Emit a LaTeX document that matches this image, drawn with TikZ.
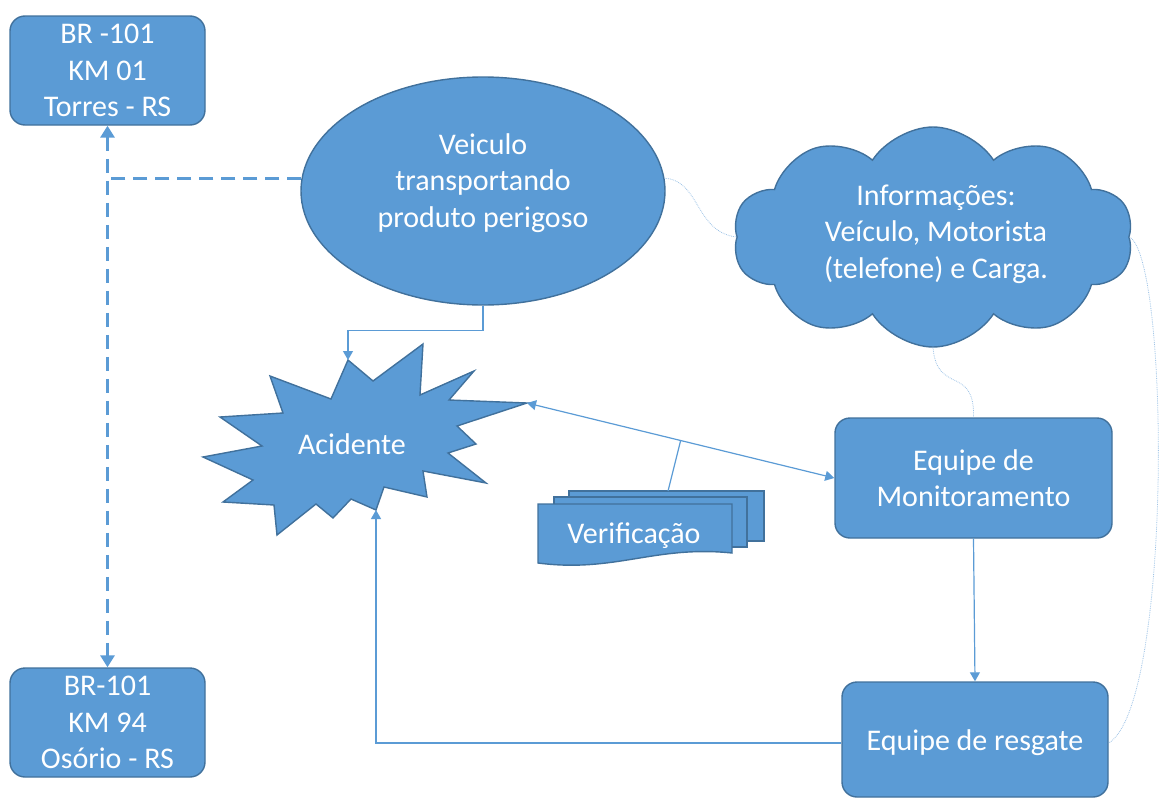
\documentclass[tikz,border=0pt]{standalone}
\usepackage{fontspec}
\setmainfont{Carlito}
\usetikzlibrary{arrows.meta,shapes.geometric,shapes.symbols,calc}
\definecolor{boxfill}{HTML}{5B9BD5}
\definecolor{boxedge}{HTML}{41719C}
\definecolor{linkblue}{HTML}{5B9BD5}
\definecolor{faintblue}{HTML}{9DC3E6}
\tikzset{
  shapebase/.style={fill=boxfill, draw=boxedge, line width=1.4pt, text=white,
    align=center, font=\fontsize{30}{36.5}\selectfont},
  roundbox/.style={shapebase, rectangle, rounded corners=15pt, inner sep=0pt},
  plaintext/.style={text=white, align=center, font=\fontsize{30}{36.5}\selectfont, inner sep=0pt},
  link/.style={draw=linkblue, line width=1.2pt},
  linkarrow/.style={link, -{Triangle[width=10pt,length=9pt]}},
  roadline/.style={draw=linkblue, line width=3pt, dash pattern=on 14pt off 8pt},
  roadtip/.style={{Triangle[width=14pt,length=12pt]}-{Triangle[width=14pt,length=12pt]}},
  softlink/.style={draw=faintblue, line width=0.8pt, densely dotted},
}
\begin{document}
\begin{tikzpicture}[x=1pt,y=-1pt]
\useasboundingbox (0,0) rectangle (1160,798);

% road markers
\node[roundbox, minimum width=195pt, minimum height=109pt] (top) at (107.5,70.5)
  {BR -101\\KM 01\\Torres - RS};
\node[roundbox, minimum width=195pt, minimum height=109pt] (bot) at (107.5,722.5)
  {BR-101\\KM 94\\Osório - RS};

% vehicle
\node[shapebase, ellipse, minimum width=364pt, minimum height=228pt, inner sep=0pt] (veic)
  at (483,191) {};
\node[plaintext] (vtext) at (483,183) {Veiculo\\transportando\\produto perigoso};

% information cloud
\node[shapebase, cloud, cloud puffs=10, cloud puff arc=115, cloud ignores aspect,
  minimum width=400pt, minimum height=220pt, inner sep=0pt] (info) at (933,237) {};
\node[plaintext] (itext) at (936,234)
  {Informações:\\Veículo, Motorista\\(telefone) e Carga.};

% accident starburst
\filldraw[fill=boxfill, draw=boxedge, line width=1.4pt, line join=miter]
  (348,360) coordinate (sTop) -- (373,381) -- (423,344) -- (420,395) -- (474,371)
  -- (449,400) -- (527,403) coordinate (sRight) -- (457,426) -- (476,444) -- (448,453)
  -- (486,483) -- (423,471) -- (427,497) -- (384,487) -- (376,510) coordinate (sBot)
  -- (351,499) -- (333,518) -- (316,504) -- (277,535) -- (274,505) -- (223,502)
  -- (253,480) -- (203,457) -- (262,446) -- (220,417) -- (283,413) -- (270,376)
  -- (331,399) -- cycle;
\node[plaintext] (acid) at (352,444) {Acidente};

% verification documents
\filldraw[fill=boxfill, draw=boxedge, line width=1.4pt]
  (569,491) coordinate (docTop) rectangle (764,541);
\filldraw[fill=boxfill, draw=boxedge, line width=1.4pt] (554,497) rectangle (747,547);
\filldraw[fill=boxfill, draw=boxedge, line width=1.4pt]
  (538,504) -- (732,504) -- (732,553) .. controls (655,545) and (615,573) .. (538,563) -- cycle;
\node[plaintext] (verif) at (634,536) {Verificação};

% teams
\node[roundbox, minimum width=277pt, minimum height=120pt] (mon) at (973.5,478)
  {Equipe de\\Monitoramento};
\node[roundbox, minimum width=266pt, minimum height=115pt] (resg) at (975,739.5) {};
\node[plaintext] (rtext) at (975,743) {Equipe de resgate};

% road stretch
\draw[roadline, roadtip] (top.south) -- (bot.north);
\draw[roadline] (veic.176) -- (veic.176 -| top.south);

% flow connectors
\draw[linkarrow] (veic.south) -- ++(0,25) -| (sTop);
\draw[link, {Triangle[width=10pt,length=9pt]}-{Triangle[width=10pt,length=9pt]}]
  (sRight) -- (mon.west);
\coordinate (vmid) at ($(sRight)!0.5!(mon.west)$);
\draw[link] ($(docTop)+(99,0)$) -- (vmid);
\draw[linkarrow] (mon.south) -- (resg.north);
\draw[linkarrow] (resg.west |- rtext) -| (sBot);

% information links
\draw[softlink] (veic.4) .. controls (700,180) and (695,232) .. (info.west);
\draw[softlink] (info.south) .. controls (937,395) and (975,365) .. (mon.north);
\draw[softlink] (info.east) .. controls (1170,260) and (1172,705) .. (resg.east |- rtext);
\end{tikzpicture}
\end{document}
